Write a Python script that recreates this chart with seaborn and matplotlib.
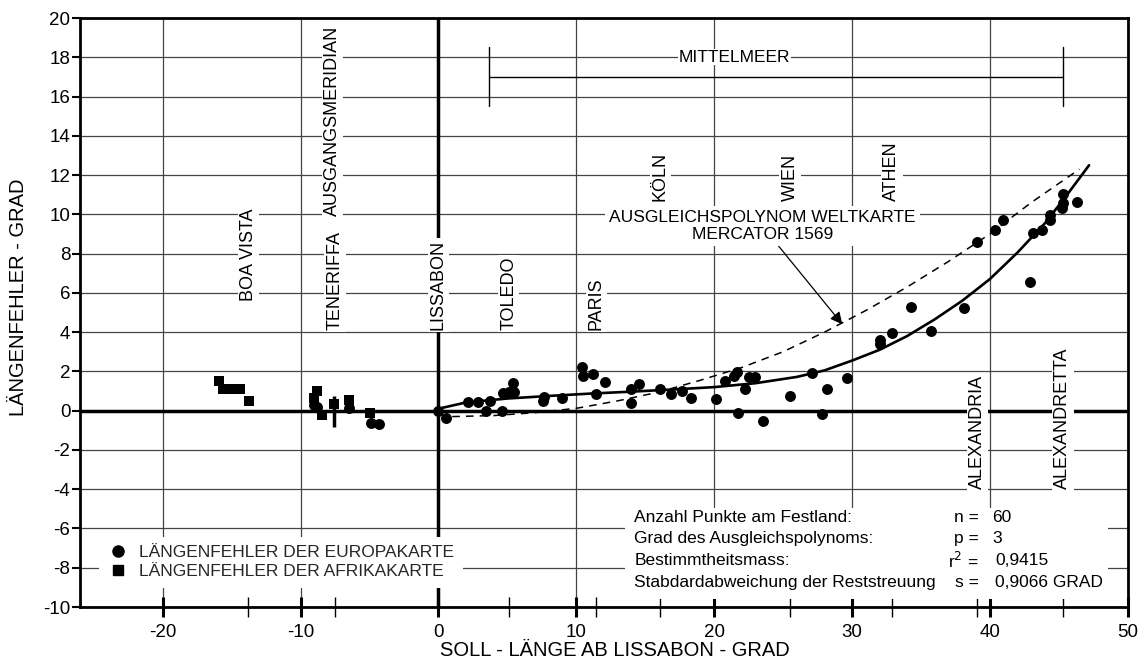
import numpy as np
import pandas as pd
import matplotlib
matplotlib.use("Agg")
import matplotlib.pyplot as plt
import seaborn as sns
from matplotlib.lines import Line2D

# Längenfehler der Europakarte (Kreise)
eu_x = [0.0, 0.58, 2.16, 2.84, 3.45, 3.76, 4.6, 4.7, 5.14, 5.5, 5.43, 7.56, 7.69, 8.95,
        10.4, 10.52, 11.25, 11.45, 12.12, 13.94, 13.99, 14.52, 16.05, 16.85, 17.67, 18.3,
        20.12, 20.8, 21.45, 21.67, 21.7, 22.23, 22.55, 22.96, 23.52, 25.5, 27.08, 27.81,
        28.17, 29.63, 32.05, 32.05, 32.9, 35.7, 34.3, 38.11, 39.08, 40.4, 40.97, 42.89,
        43.13, 43.76, 44.36, 44.36, 45.34, 45.34, 45.27, 46.36,
        -9.04, -8.8, -6.45, -4.92, -4.31]
eu_y = [0.0, -0.39, 0.45, 0.42, 0.0, 0.49, 0.0, 0.88, 0.93, 0.93, 1.42, 0.49, 0.68, 0.66,
        2.24, 1.78, 1.85, 0.83, 1.47, 1.1, 0.37, 1.34, 1.1, 0.83, 1.01, 0.66,
        0.58, 1.52, 1.76, 1.98, -0.14, 1.13, 1.7, 1.73, -0.51, 0.76, 1.9, -0.19,
        1.13, 1.68, 3.6, 3.39, 3.97, 4.05, 5.29, 5.24, 8.6, 9.2, 9.71, 6.57,
        9.07, 9.2, 9.96, 9.71, 11.02, 10.56, 10.31, 10.61,
        0.29, 0.2, 0.12, -0.65, -0.68]

# Längenfehler der Afrikakarte (Quadrate)
af_x = [-15.95, -15.66, -15.1, -14.37, -13.72, -8.8, -9.04, -8.44, -7.6, -6.45, -4.99]
af_y = [1.52, 1.08, 1.08, 1.08, 0.5, 1.01, 0.66, -0.22, 0.35, 0.54, -0.11]

# senkrechter Fehlerstrich bei Teneriffa
bar_x = [-7.6]
bar_lo = [-0.82]
bar_hi = [0.76]

# Ausgleichspolynom Festland (durchgezogen)
fit_x = [0, 2, 5, 8, 11, 14, 17, 20, 23, 26, 28, 30, 32, 34, 36, 38, 40, 42, 44, 45.5, 47.2]
fit_y = [0.1, 0.42, 0.62, 0.75, 0.87, 0.97, 1.08, 1.2, 1.4, 1.72, 2.05, 2.55, 3.1, 3.8,
         4.65, 5.6, 6.7, 8.05, 9.55, 10.9, 12.5]

# Ausgleichspolynom Weltkarte Mercator 1569 (gestrichelt)
merc_x = [1, 4, 7, 10, 13, 16, 19, 22, 25, 28, 31, 34, 37, 40, 43, 46.5]
merc_y = [-0.3, -0.25, -0.1, 0.12, 0.5, 0.95, 1.55, 2.2, 3.0, 4.0, 5.1, 6.3, 7.6, 9.0, 10.6, 12.3]

# Orte (Soll-Länge ab Lissabon)
city_names = ["BOA VISTA", "TENERIFFA", "LISSABON", "TOLEDO", "PARIS", "KÖLN",
              "WIEN", "ATHEN", "ALEXANDRIA", "ALEXANDRETTA"]
city_x = [-13.8, -7.5, 0.0, 5.1, 11.45, 16.1, 25.5, 32.9, 39.1, 45.3]
city_label_y = [5.6, 4.1, 4.1, 4.1, 4.1, 10.7, 10.7, 10.7, -4.0, -4.0]

stats_labels = ["Anzahl Punkte am Festland:", "Grad des Ausgleichspolynoms:",
                "Bestimmtheitsmass:", "Stabdardabweichung der Reststreuung"]
stats_keys = ["n =", "p =", "r$^2$ =", "s ="]
stats_vals = ["60", "3", "0,9415", "0,9066 GRAD"]

sns.set_theme(style="white")
plt.rcParams["font.family"] = ["Liberation Sans", "DejaVu Sans"]
plt.rcParams["axes.unicode_minus"] = False
FS = 12.5
FS_V = 13

fig = plt.figure(figsize=(11.46, 6.68), dpi=100)
ax = fig.add_axes([0.0698, 0.0913, 0.9142, 0.8817])

ax.set_xlim(-26, 50)
ax.set_ylim(-10, 20)
ax.set_xticks(range(-20, 51, 10))
ax.set_xticks(city_x, minor=True)
ax.set_yticks(range(-10, 21, 2))
ax.grid(True, which="major", color="#444444", lw=0.9, zorder=0)
ax.set_axisbelow(True)
for s in ax.spines.values():
    s.set_color("black")
    s.set_linewidth(2)
ax.tick_params(axis="x", which="major", direction="inout", length=14, width=2.2,
               labelsize=13.5, colors="black", bottom=True, pad=5)
ax.tick_params(axis="x", which="minor", direction="inout", length=14, width=1,
               colors="black", bottom=True)
ax.tick_params(axis="y", which="major", direction="out", length=6, width=1.5,
               labelsize=13.5, colors="black", left=True, pad=1)

ax.axhline(0, color="black", lw=2.5, zorder=1)
ax.axvline(0, color="black", lw=2.5, zorder=1)

ax.set_xlabel("SOLL - LÄNGE AB LISSABON - GRAD", fontsize=14.5, color="black")
ax.set_ylabel("LÄNGENFEHLER - GRAD", fontsize=14.5, color="black")
ax.xaxis.set_label_coords(0.511, -0.058)
ax.yaxis.set_label_coords(-0.059, 0.526)
ax.yaxis.label.set_va("center")

# Kurven
sns.lineplot(x=fit_x, y=fit_y, ax=ax, color="black", lw=1.9, sort=False,
             estimator=None, zorder=3)
sns.lineplot(x=merc_x, y=merc_y, ax=ax, color="black", lw=1.1, sort=False,
             estimator=None, zorder=3, linestyle=(0, (5, 4)))

# Punkte
sns.scatterplot(x=eu_x, y=eu_y, ax=ax, marker="o", s=62, color="black",
                edgecolor="black", linewidth=0, zorder=4)
sns.scatterplot(x=af_x, y=af_y, ax=ax, marker="s", s=45, color="black",
                edgecolor="black", linewidth=0, zorder=4)
ax.vlines(bar_x, bar_lo, bar_hi, color="black", lw=2.5, zorder=4)

box = dict(facecolor="white", edgecolor="none", pad=1.5)

# Ortsnamen senkrecht
for name, cx, cy in zip(city_names, city_x, city_label_y):
    ax.text(cx, cy, name, rotation=90, ha="center", va="bottom", fontsize=FS_V,
            color="black", bbox=box, zorder=2)
ax.text(-7.7, 9.9, "AUSGANGSMERIDIAN", rotation=90, ha="center", va="bottom",
        fontsize=FS_V, color="black", bbox=box, zorder=2)

# Mittelmeer
ax.plot([3.7, 45.3], [17, 17], color="black", lw=1, zorder=2)
ax.plot([3.7, 3.7], [15.5, 18.5], color="black", lw=1, zorder=2)
ax.plot([45.3, 45.3], [15.5, 18.5], color="black", lw=1, zorder=2)
ax.text(21.5, 18.0, "MITTELMEER", ha="center", va="center", fontsize=FS,
        color="black", bbox=dict(facecolor="white", edgecolor="none", pad=0.5), zorder=2)

# Beschriftung Weltkarte mit Pfeil
ax.annotate("AUSGLEICHSPOLYNOM WELTKARTE\nMERCATOR 1569", xy=(29.3, 4.4),
            xytext=(23.5, 9.4), ha="center", va="center", fontsize=FS,
            color="black", multialignment="center", linespacing=1.15,
            bbox=dict(facecolor="white", edgecolor="none", pad=3),
            arrowprops=dict(arrowstyle="-|>", color="black", lw=0.9,
                            mutation_scale=18, shrinkA=0, shrinkB=0),
            zorder=2)

# Statistik-Block
ax.add_patch(plt.Rectangle((13.5, -9.6), 35.1, 4.65, facecolor="white",
                           edgecolor="none", zorder=2))
for i, (lab, key, val) in enumerate(zip(stats_labels, stats_keys, stats_vals)):
    yy = -5.43 - i * 1.1
    ax.text(14.2, yy, lab, ha="left", va="center", fontsize=FS, color="black", zorder=3)
    ax.text(39.2, yy, key, ha="right", va="center", fontsize=FS, color="black", zorder=3)
    ax.text(40.2 if i < 2 else 40.4, yy, val, ha="left", va="center", fontsize=FS,
            color="black", zorder=3)

# Legende
handles = [
    Line2D([], [], marker="o", color="black", lw=0, markersize=8),
    Line2D([], [], marker="s", color="black", lw=0, markersize=7),
]
ax.legend(handles, ["LÄNGENFEHLER DER EUROPAKARTE", "LÄNGENFEHLER DER AFRIKAKARTE"],
          loc="lower left", bbox_to_anchor=(0.01, 0.018), frameon=True,
          facecolor="white", edgecolor="none", framealpha=1, fancybox=False,
          fontsize=FS, handletextpad=0.6, borderpad=0.5, labelspacing=0.2,
          handlelength=1.2)

fig.savefig("out.png", dpi=100)
